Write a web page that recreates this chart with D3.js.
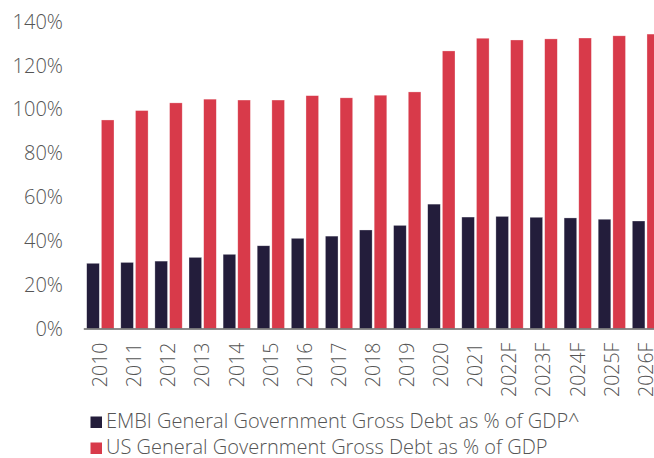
<!DOCTYPE html>
<html>
<head>
<meta charset="utf-8">
<script src="https://cdn.jsdelivr.net/npm/d3@7"></script>
<style>
  body { margin: 0; background: #fff; }
  svg text { font-family: "Open Sans", Roboto, sans-serif; font-weight: 300; fill: #555; }
</style>
</head>
<body>
<div id="chart"></div>
<script>
// Chart data
const years = ["2010", "2011", "2012", "2013", "2014", "2015", "2016", "2017", "2018",
  "2019", "2020", "2021", "2022F", "2023F", "2024F", "2025F", "2026F"];
const embiDebt = [29.8, 30.2, 30.8, 32.5, 33.9, 37.8, 41.2, 42.2, 45.0,
  47.1, 56.8, 50.9, 51.2, 50.8, 50.5, 49.9, 49.1];
const usDebt = [95.2, 99.5, 103.0, 104.7, 104.3, 104.3, 106.3, 105.3, 106.5,
  108.0, 126.7, 132.5, 131.7, 132.2, 132.6, 133.6, 134.4];
const seriesNames = ["EMBI General Government Gross Debt as % of GDP^",
  "US General Government Gross Debt as % of GDP"];
const yTicks = [0, 20, 40, 60, 80, 100, 120, 140];

const width = 654;
const height = 458;
const colors = ["#231d3b", "#d83a4a"];

const svg = d3.select("#chart")
  .append("svg")
  .attr("width", width)
  .attr("height", height);

// Scales
const x0 = d3.scaleBand()
  .domain(years)
  .range([83.3, 83.3 + 17 * 34.1])
  .padding(0);

const x1 = d3.scaleBand()
  .domain([0, 1])
  .range([3.4, 30.7])
  .paddingInner(0.14);

const y = d3.scaleLinear()
  .domain([0, 140])
  .range([328.6, 21.8]);

// Y axis labels (no line)
const yAxis = svg.append("g")
  .attr("transform", "translate(63,0)")
  .call(d3.axisLeft(y).tickValues(yTicks).tickSize(0).tickPadding(0).tickFormat(d => d + "%"));
yAxis.select(".domain").remove();
yAxis.selectAll("text")
  .style("font-size", "20px")
  .attr("fill", "#555");

// Bars
const rows = years.map((yr, i) => ({ year: yr, values: [embiDebt[i], usDebt[i]] }));

const groups = svg.selectAll(".grp")
  .data(rows)
  .enter()
  .append("g")
  .attr("class", "grp")
  .attr("transform", d => `translate(${x0(d.year)},0)`);

groups.selectAll("rect")
  .data(d => d.values.map((v, k) => ({ k: k, v: v })))
  .enter()
  .append("rect")
  .attr("x", d => x1(d.k))
  .attr("width", x1.bandwidth())
  .attr("y", d => y(d.v))
  .attr("height", d => y(0) - y(d.v))
  .attr("fill", d => colors[d.k])
  .attr("stroke", "#fff")
  .attr("stroke-opacity", 0.5)
  .attr("stroke-width", 0.6);

// X axis
const xAxis = svg.append("g")
  .attr("transform", `translate(0,${y(0)})`)
  .call(d3.axisBottom(x0).tickSize(0).tickPadding(0));
xAxis.select(".domain")
  .attr("stroke", "#666")
  .attr("stroke-width", 1.5);
xAxis.selectAll("text")
  .style("font-size", "19.5px")
  .attr("fill", "#555")
  .attr("text-anchor", "end")
  .attr("transform", "rotate(-90)")
  .attr("x", -14)
  .attr("y", 0)
  .attr("dy", "0.35em");

// Legend
const legend = svg.selectAll(".leg")
  .data(seriesNames)
  .enter()
  .append("g")
  .attr("class", "leg")
  .attr("transform", (d, i) => `translate(90.5,${416.5 + i * 26})`);

legend.append("rect")
  .attr("width", 11.5)
  .attr("height", 11.5)
  .attr("fill", (d, i) => colors[i]);

legend.append("text")
  .attr("x", 15.5)
  .attr("y", 11.5)
  .style("font-size", "20px")
  .text(d => d);
</script>
</body>
</html>
